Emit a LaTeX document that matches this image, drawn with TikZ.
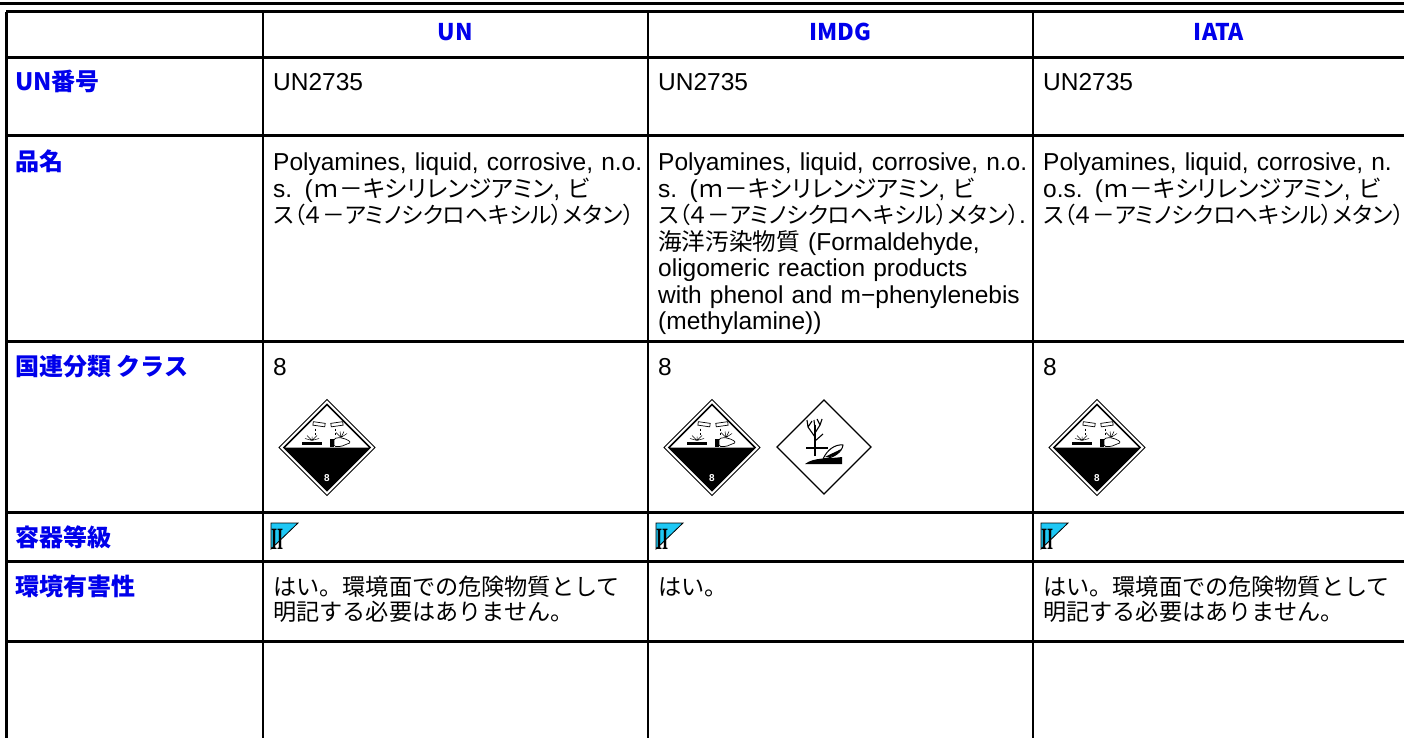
\documentclass[tikz,border=0pt]{standalone}
\usepackage{fontspec}
\setmainfont{Liberation Sans}
\newfontfamily\jp[Scale=0.965]{Noto Sans CJK JP}
\newfontfamily\jpk[Scale=0.965,RawFeature=+palt]{Noto Sans CJK JP}
\newfontfamily\jpn[Scale=0.925,RawFeature=+palt]{Noto Sans CJK JP}
\newfontfamily\jpb{Noto Sans CJK JP}
\newfontfamily\romanII{Liberation Serif}
\usepackage{tikz}
\definecolor{hdblue}{RGB}{0,0,235}
\definecolor{pgcyan}{RGB}{30,200,245}

\tikzset{
  corrosive/.pic={
    % rims and black lower half
    \draw[line width=1pt] (0,-48) -- (48,0) -- (0,48) -- (-48,0) -- cycle;
    \draw[line width=1.6pt] (0,-43) -- (43,0) -- (0,43) -- (-43,0) -- cycle;
    \fill (-43,0) -- (43,0) -- (0,43) -- cycle;
    \node[text=white,font=\bfseries\fontsize{10}{10}\selectfont,inner sep=0pt] at (0,31) {8};
    % test tubes and drops
    \draw[line width=0.7pt,rotate around={-8:(-8,-23)}] (-14,-25) rectangle (-2,-21.5);
    \draw[line width=0.7pt,rotate around={8:(10,-23)}] (4,-25) rectangle (16,-21.5);
    \draw[line width=0.8pt] (-12,-19) -- (-12,-16.5) (-12,-14.5) -- (-12,-12.5)
                            (8,-19) -- (8,-16.5) (8,-14.5) -- (8,-12.5);
    % metal bar
    \fill (-25,-6) rectangle (-5,-2.5);
    \draw[line width=0.5pt] (-15,-7) -- (-20,-12) (-15,-7) -- (-15,-11) (-15,-7) -- (-10,-12)
                            (-15,-7) -- (-22,-9) (-15,-7) -- (-8,-9);
    % hand
    \fill (3,-9) rectangle (7,-1);
    \draw[line width=0.7pt,rounded corners=1.5pt] (7,-1) -- (7,-9) -- (13,-10) -- (20,-8)
                            -- (24,-5) -- (20,-3.5) -- (14,-1) -- cycle;
    \draw[line width=0.5pt] (14,-10) -- (9,-15) (14,-10) -- (13,-16) (14,-10) -- (17,-16)
                            (14,-10) -- (20,-14);
  },
  envhazard/.pic={
    \draw[line width=1.2pt] (0,-47) -- (47,0) -- (0,47) -- (-47,0) -- cycle;
    % tree
    \draw[line width=2.4pt] (-9,9) -- (-9,-22);
    \draw[line width=1.1pt] (-9,-10) -- (-16,-20) -- (-17,-27) (-16,-20) -- (-12,-26)
                          (-9,-14) -- (-4,-22) -- (-2,-28) (-4,-22) -- (-7,-28)
                          (-9,-6) -- (-1,-13) (-9,-18) -- (-10,-27);
    % water line
    \draw[line width=1.5pt] (-18,1) -- (4,1);
    % fish
    \draw[line width=1pt,fill=white] (-1,12) .. controls (3,3) and (11,-3) .. (19,-2)
                          .. controls (18,5) and (10,11) .. (-1,12) -- cycle;
    \fill (1,10) .. controls (6,7) and (12,5) .. (17,2) .. controls (14,8) and (8,11) .. (1,10) -- cycle;
    % ground
    \fill (-19,17) .. controls (-10,10) and (4,12) .. (18,10) -- (18,17) -- cycle;
  },
  pgtwo/.pic={
    \draw[fill=pgcyan,line width=0.8pt] (0,0) -- (27,0) -- (0,26) -- cycle;
    \node[font=\romanII\bfseries\fontsize{31}{31}\selectfont,xscale=0.5,
          anchor=base west,inner sep=0pt] at (0,26) {II};
  }
}

\begin{document}
\begin{tikzpicture}[x=1pt,y=-1pt,
    rowline/.style={line width=3pt},
    colline/.style={line width=2pt},
    head/.style={text=hdblue,font=\jpb\bfseries\fontsize{23}{23}\selectfont,anchor=base,inner sep=0pt},
    rowlabel/.style={text=hdblue,font=\jpb\bfseries\fontsize{24}{24}\selectfont,anchor=base west,inner sep=0pt},
    cell/.style={font=\fontsize{24.5}{26.5}\selectfont,anchor=base west,inner sep=0pt,
                 text width=380pt,align=left},
    jpcell/.style={font=\jp\fontsize{24}{25}\selectfont,anchor=base west,inner sep=0pt,
                 text width=380pt,align=left},
    lastcol/.style={text width=358pt}]

    \useasboundingbox (0,0) rectangle (1404,738);

    % rules of the table
    \draw[rowline] (0,4) -- (1404,4);
    \draw[rowline] (6,12) -- (1404,12)
                   (6,57.5) -- (1404,57.5)
                   (6,136) -- (1404,136)
                   (6,341) -- (1404,341)
                   (6,512) -- (1404,512)
                   (6,561) -- (1404,561)
                   (6,641) -- (1404,641);
    \draw[rowline] (6,12) -- (6,738);
    \draw[colline] (263,12) -- (263,738)
                   (648,12) -- (648,738)
                   (1033,12) -- (1033,738);

    % header
    \node (hd-un)   [head] at (455.5,41) {UN};
    \node (hd-imdg) [head] at (840.5,41) {IMDG};
    \node (hd-iata) [head] at (1219,41)  {IATA};

    % row labels
    \node (lb-unno)  [rowlabel] at (15,91)  {UN番号};
    \node (lb-name)  [rowlabel] at (15,171) {品名};
    \node (lb-class) [rowlabel] at (15,375) {国連分類 クラス};
    \node (lb-pg)    [rowlabel] at (15,546) {容器等級};
    \node (lb-env)   [rowlabel] at (15,595) {環境有害性};

    % UN number
    \node (un-no)   [cell] at (273,91)  {UN2735};
    \node (imdg-no) [cell] at (658,91)  {UN2735};
    \node (iata-no) [cell,lastcol] at (1043,91) {UN2735};

    % proper shipping name
    \node (un-name) [cell] at (273,171)
    {Polyamines, liquid, corrosive, n.o.\\
        s. ({\jpk ｍ－キシリレンジアミン}, {\jpk ビ}\\
        {\jpn ス（４－アミノシクロヘキシル）メタン）}};
    \node (imdg-name) [cell] at (658,171)
    {Polyamines, liquid, corrosive, n.o.\\
        s. ({\jpk ｍ－キシリレンジアミン}, {\jpk ビ}\\
        {\jpn ス（４－アミノシクロヘキシル）メタン）}.\\
        {\jp 海洋汚染物質} (Formaldehyde,\\
        oligomeric reaction products\\
        with phenol and m−phenylenebis\\
        (methylamine))};
    \node (iata-name) [cell,lastcol] at (1043,171)
    {Polyamines, liquid, corrosive, n.\\
        o.s. ({\jpk ｍ－キシリレンジアミン}, {\jpk ビ}\\
        {\jpn ス（４－アミノシクロヘキシル）メタン）}};

    % class and labels
    \node (un-class)   [cell] at (273,375)  {8};
    \node (imdg-class) [cell] at (658,375)  {8};
    \node (iata-class) [cell,lastcol] at (1043,375) {8};
    \pic at (327,447.5)  {corrosive};
    \pic at (712,447.5)  {corrosive};
    \pic at (824,447)    {envhazard};
    \pic at (1097,447.5) {corrosive};

    % packing group
    \pic at (271,523)  {pgtwo};
    \pic at (656,523)  {pgtwo};
    \pic at (1041,523) {pgtwo};

    % environmental hazard
    \node (un-env) [jpcell] at (273,595)
    {はい。環境面での危険物質として\\
        明記する必要はありません。};
    \node (imdg-env) [jpcell] at (658,595) {はい。};
    \node (iata-env) [jpcell,lastcol] at (1043,595)
    {はい。環境面での危険物質として\\
        明記する必要はありません。};

\end{tikzpicture}
\end{document}
